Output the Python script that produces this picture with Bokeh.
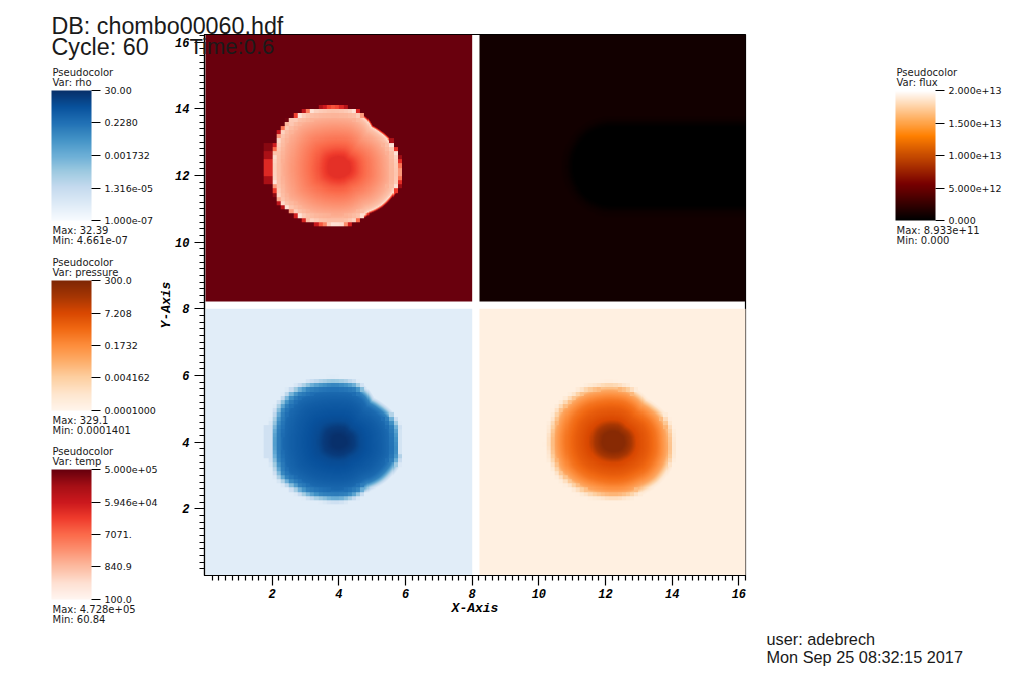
import numpy as np
from bokeh.plotting import figure
from bokeh.embed import file_html
from bokeh.resources import INLINE
from bokeh.models import (Range1d, FixedTicker, LogColorMapper, LinearColorMapper,
                          ColorBar, Label, GridBox, Column, AllLabels)
from bokeh.palettes import Blues256, Oranges256, Reds256

# ---- text -------------------------------------------------------------
header_db = "DB: chombo00060.hdf"
header_cycle = "Cycle: 60"
header_time = "Time:0.6"
footer_user = "user: adebrech"
footer_date = "Mon Sep 25 08:32:15 2017"

# ---- axes --------------------------------------------------------------
axis_ticks = [2, 4, 6, 8, 10, 12, 14, 16]
minor_ticks = [round(i * 0.2, 1) for i in range(1, 82) if i % 10 != 0]

# ---- legends -----------------------------------------------------------
rho_labels = ["30.00", "0.2280", "0.001732", "1.316e-05", "1.000e-07"]
rho_max, rho_min = "32.39", "4.661e-07"
pressure_labels = ["300.0", "7.208", "0.1732", "0.004162", "0.0001000"]
pressure_max, pressure_min = "329.1", "0.0001401"
temp_labels = ["5.000e+05", "5.946e+04", "7071.", "840.9", "100.0"]
temp_max, temp_min = "4.728e+05", "60.84"
flux_labels = ["2.000e+13", "1.500e+13", "1.000e+13", "5.000e+12", "0.000"]
flux_max, flux_min = "8.933e+11", "0.000"

# ---- front outline of the blob -----------------------------------------
outline_angle = [0, 15, 30, 41, 52, 60, 75, 90, 105, 120, 135, 150, 165, 180,
                 195, 210, 225, 240, 255, 270, 285, 295, 303, 317, 334, 345]
outline_radius = [1.73, 1.72, 1.66, 1.58, 1.52, 1.62, 1.73, 1.75, 1.80, 1.90, 2.03, 2.04, 1.99, 2.00,
                  2.01, 2.05, 1.92, 1.82, 1.73, 1.70, 1.65, 1.60, 1.58, 1.67, 1.75, 1.78]
pressure_radius = [1.70, 1.68, 1.62, 1.55, 1.50, 1.55, 1.62, 1.65, 1.68, 1.75, 1.82, 1.88, 1.88, 1.90,
                   1.90, 1.88, 1.80, 1.72, 1.66, 1.65, 1.65, 1.65, 1.66, 1.72, 1.74, 1.74]
blob_center = (4.02, 4.01)
panel_offset = 8.22

# ---- radial profiles: position in units of the outline, field value ------
temp_s = [0.00, 0.18, 0.27, 0.35, 0.50, 0.70, 0.85, 0.95, 0.99, 1.00, 1.015, 1.03, 1.05]
temp_v = [2.8e4, 2.8e4, 1.66e4, 1.0e4, 5000, 2200, 1200, 700, 400, 250, 3000, 3.0e4, 4.728e5]
rho_s = [0.00, 0.10, 0.25, 0.35, 0.50, 0.70, 0.85, 0.95, 1.00, 1.05, 1.10]
rho_v = [30, 30, 12, 4, 2.2, 1.0, 0.4, 0.06, 1.5e-3, 2e-5, 8.6e-7]
pressure_s = [0.00, 0.18, 0.30, 0.40, 0.60, 0.75, 0.85, 0.93, 1.00, 1.05, 1.10]
pressure_v = [190, 190, 46, 7.2, 2.2, 0.6, 0.15, 0.04, 0.004, 5e-4, 1.9e-4]
flux_d = [0.0, 1.12, 1.25, 1.38, 1.55]
flux_v = [0.0, 0.0, 2.5e11, 6.5e11, 8.933e11]
flux_center = (12.2, 12.27)

# ---- isolated cells beside the blob ---------------------------------------
temp_left_rows = [3.50, 3.75, 4.00, 4.25, 4.50]
temp_left_vals = [1.5e5, 3.5e4, 3.5e4, 1.5e5, 2.8e5]
temp_right_rows = [3.375, 3.5, 3.625, 3.75, 3.875, 4.0, 4.125, 4.25]
temp_right_vals = [2.0e5, 3.0e4, 5000, 2000, 2000, 5000, 3.0e4, 2.0e5]
rho_left_rows = [3.5, 3.75, 4.0, 4.25]
rho_left_vals = [5e-6, 5e-6, 5e-6, 5e-6]
rho_right_rows = [3.625, 3.75, 3.875, 4.0, 4.125, 4.25]
rho_right_vals = [3.5e-6, 3.5e-6, 3.5e-6, 3.5e-6, 3.5e-6, 3.5e-6]

# colour stops of the flux scale
flux_stops = [0.0, 0.28, 0.65, 1.0]
flux_colors = [(0, 0, 0), (120, 0, 0), (255, 128, 0), (255, 255, 255)]


def build_palette():
    t = np.linspace(0, 1, 256)
    c = np.array(flux_colors, float)
    rgb = [np.interp(t, flux_stops, c[:, k]) for k in range(3)]
    return ["#%02x%02x%02x" % (int(r), int(g), int(b)) for r, g, b in zip(*rgb)]


FINE = 32
n = 8 * FINE
xc = (np.arange(n) + 0.5) / FINE
X, Y = np.meshgrid(xc, xc)
XQ, YQ = (np.floor(X * 8) + 0.5) / 8, (np.floor(Y * 8) + 0.5) / 8


def norm_radius(x, y, radii):
    dx, dy = x - blob_center[0], y - blob_center[1]
    theta = np.degrees(np.arctan2(dy, dx)) % 360
    r = np.hypot(dx, dy)
    return r / np.interp(theta, outline_angle, radii, period=360), theta


def field(s_tab, v_tab, radii, coarse_from=0.86):
    s_fine, theta = norm_radius(X, Y, radii)
    s_coarse, theta_c = norm_radius(XQ, YQ, radii)
    smooth_sector = ((theta_c > 28) & (theta_c < 66)) | ((theta_c > 298) & (theta_c < 336))
    use_coarse = (s_coarse > coarse_from) & ~smooth_sector
    s = np.where(use_coarse, s_coarse, s_fine)
    return 10 ** np.interp(s, s_tab, np.log10(v_tab))


def stamp(img, x0, x1, rows, vals, h):
    for yy, vv in zip(rows, vals):
        img[(X > x0) & (X < x1) & (Y >= yy) & (Y < yy + h)] = vv


rho_img = field(rho_s, rho_v, outline_radius)
pressure_img = field(pressure_s, pressure_v, pressure_radius, 0.95)
temp_img = field(temp_s, temp_v, outline_radius)
stamp(temp_img, 1.74, 2.0, temp_left_rows, temp_left_vals, 0.25)
stamp(temp_img, 5.75, 5.88, temp_right_rows, temp_right_vals, 0.125)
stamp(rho_img, 1.74, 2.0, rho_left_rows, rho_left_vals, 0.25)
stamp(rho_img, 5.75, 5.88, rho_right_rows, rho_right_vals, 0.125)

fx, fy = X + panel_offset, Y + panel_offset
flux_dist = np.hypot(np.maximum(flux_center[0] - fx, 0), fy - flux_center[1])
flux_img = np.interp(flux_dist, flux_d, flux_v)

W, H = 1016, 668

# ---- main figure -------------------------------------------------------
p = figure(frame_width=541, frame_height=541, output_backend="svg", toolbar_location=None,
           x_range=Range1d(-0.03, 16.2), y_range=Range1d(0, 16.23),
           min_border_left=204, min_border_top=34, min_border_right=W - 745, min_border_bottom=H - 575,
           x_axis_label="X-Axis", y_axis_label="Y-Axis", tools="")
p.grid.visible = False
p.outline_line_color = "black"
p.outline_line_width = 1.2
for ax in (p.xaxis[0], p.yaxis[0]):
    ax.ticker = FixedTicker(ticks=axis_ticks, minor_ticks=minor_ticks)
    ax.major_tick_out, ax.major_tick_in = 10, 0
    ax.minor_tick_out, ax.minor_tick_in = 5, 0
    ax.axis_line_width = 1.2
    ax.major_tick_line_width = 1.2
    ax.minor_tick_line_width = 1.2
    ax.major_label_text_font = "Liberation Mono"
    ax.major_label_text_font_style = "bold italic"
    ax.major_label_text_font_size = "12px"
    ax.major_label_text_color = "black"
    ax.axis_label_text_font = "Liberation Mono"
    ax.axis_label_text_font_style = "bold italic"
    ax.axis_label_text_font_size = "13px"
    ax.axis_label_text_color = "black"
p.xaxis[0].major_label_standoff = 3
p.xaxis[0].axis_label_standoff = 0
p.yaxis[0].major_label_standoff = 5
p.yaxis[0].axis_label_standoff = -2
p.yaxis[0].major_label_orientation = "horizontal"

rho_map = LogColorMapper(palette=tuple(reversed(Blues256)), low=1e-7, high=30)
pressure_map = LogColorMapper(palette=tuple(reversed(Oranges256)), low=1e-4, high=300)
temp_map = LogColorMapper(palette=tuple(reversed(Reds256)), low=100, high=5e5)
flux_map = LinearColorMapper(palette=build_palette(), low=0, high=2e13)

p.image(image=[rho_img], x=0, y=0, dw=8, dh=8, color_mapper=rho_map)
p.image(image=[pressure_img], x=panel_offset, y=0, dw=8, dh=8, color_mapper=pressure_map)
p.image(image=[temp_img], x=0, y=panel_offset, dw=8, dh=8, color_mapper=temp_map)
p.image(image=[flux_img], x=panel_offset, y=panel_offset, dw=8, dh=8, color_mapper=flux_map)

# ---- overlay: a transparent page-sized figure for legends and texts -----
o = figure(frame_width=W, frame_height=H, output_backend="svg", toolbar_location=None,
           x_range=Range1d(0, W), y_range=Range1d(0, H), x_axis_location=None, y_axis_location=None,
           min_border=0, tools="", background_fill_color=None, border_fill_color=None,
           outline_line_color=None)
o.grid.visible = False


def text(s, x, y, size, font="Liberation Sans"):
    o.add_layout(Label(x=x, y=H - y, x_units="screen", y_units="screen", text=s,
                       text_font=font, text_font_size=size, text_color="#1a1a1a",
                       text_baseline="middle", text_align="left"))


LEG_FONT = "DejaVu Sans"


def legend(var, mapper, labels, vmax, vmin, x, top):
    ticks = [float(s) for s in labels]
    overrides = {t: s for t, s in zip(ticks, labels)}
    bar = ColorBar(color_mapper=mapper, location=(x - 1, H - top - 130), width=40, height=130,
                   padding=0, margin=0, background_fill_alpha=0, border_line_color=None,
                   ticker=FixedTicker(ticks=ticks), major_label_overrides=overrides,
                   major_label_policy=AllLabels(),
                   major_tick_in=0, major_tick_out=9, major_tick_line_color="black",
                   major_tick_line_width=1.2, minor_tick_line_color=None, bar_line_color=None,
                   label_standoff=4, major_label_text_font=LEG_FONT,
                   major_label_text_font_size="9.5px", major_label_text_color="#111111")
    o.add_layout(bar, "center")
    text("Pseudocolor", x, top - 18, "10px", LEG_FONT)
    text("Var: " + var, x, top - 8, "10px", LEG_FONT)
    text("Max:  " + vmax, x, top + 140, "10px", LEG_FONT)
    text("Min:  " + vmin, x, top + 150, "10px", LEG_FONT)


legend("rho", rho_map, rho_labels, rho_max, rho_min, 52, 90)
legend("pressure", pressure_map, pressure_labels, pressure_max, pressure_min, 52, 280)
legend("temp", temp_map, temp_labels, temp_max, temp_min, 52, 469)
legend("flux", flux_map, flux_labels, flux_max, flux_min, 896, 90)

text(header_db, 51, 25, "23.3px")
text(header_cycle, 51, 46, "23.3px")
text(header_time, 189, 46, "22px")
text(footer_user, 766, 638, "16.3px")
text(footer_date, 766, 656, "16.3px")

page = GridBox(children=[(Column(children=[p]), 0, 0), (Column(children=[o]), 0, 0)])
open("out.html", "w").write(file_html(page, INLINE))
